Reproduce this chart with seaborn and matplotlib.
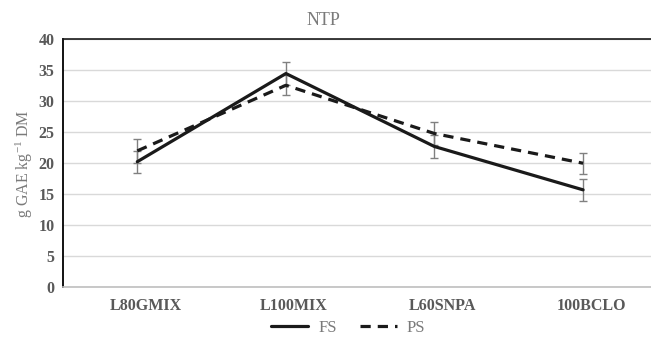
import matplotlib
matplotlib.use("Agg")
import matplotlib.pyplot as plt
import matplotlib.transforms as mtransforms
from matplotlib.lines import Line2D
import numpy as np
import pandas as pd
import seaborn as sns

# Data: total phenolic content (g GAE kg-1 DM) per formulation, FS vs PS
categories = ["L80GMIX", "L100MIX", "L60SNPA", "100BCLO"]
fs_values = [20.25, 34.5, 22.7, 15.7]
fs_errors = [1.75, 1.8, 1.9, 1.8]
ps_values = [22.0, 32.6, 24.8, 20.0]
ps_errors = [1.9, 1.6, 1.9, 1.7]
series_names = ["FS", "PS"]
y_ticks = [0, 5, 10, 15, 20, 25, 30, 35, 40]

df = pd.concat([
    pd.DataFrame({"formulation": categories, "value": fs_values,
                  "err": fs_errors, "series": series_names[0]}),
    pd.DataFrame({"formulation": categories, "value": ps_values,
                  "err": ps_errors, "series": series_names[1]}),
], ignore_index=True)
df["pos"] = df["formulation"].map({c: i for i, c in enumerate(categories)})

sns.set_theme(style="white")
plt.rcParams["font.family"] = ["Liberation Serif", "DejaVu Serif"]
plt.rcParams["mathtext.fontset"] = "custom"
plt.rcParams["mathtext.rm"] = "Liberation Serif"
plt.rcParams["mathtext.it"] = "Liberation Serif:italic"

text_grey = "#595959"
light_grey = "#7a7a7a"
dash_pat = (3.2, 2.2)

fig = plt.figure(figsize=(6.51, 3.37), dpi=100)
ax = fig.add_axes([0.0968, 0.1484, 0.9032, 0.7344])

# Error bars first so the lines sit on top
for name in series_names:
    sub = df[df["series"] == name]
    ax.errorbar(sub["pos"], sub["value"], yerr=sub["err"], fmt="none",
                ecolor="#808080", elinewidth=1.0, capsize=3, capthick=1.0,
                zorder=2)

sns.lineplot(data=df, x="pos", y="value", hue="series", style="series",
             palette={"FS": "#1a1a1a", "PS": "#1a1a1a"},
             dashes={"FS": "", "PS": dash_pat},
             linewidth=2.3, sort=False, ax=ax, legend=False, zorder=3)

ax.set_ylim(0, 40)
ax.set_yticks(y_ticks)
ax.set_xlim(-0.5, 3.457)
ax.set_xticks(range(len(categories)))
ax.set_xticklabels(categories)

ax.grid(axis="y", color="#d9d9d9", linewidth=1.0)
ax.grid(axis="x", visible=False)
ax.set_axisbelow(True)

ax.spines["right"].set_visible(False)
ax.spines["left"].set_color("#000000")
ax.spines["left"].set_linewidth(1.3)
ax.spines["top"].set_color("#1a1a1a")
ax.spines["top"].set_linewidth(1.2)
ax.spines["bottom"].set_color("#bfbfbf")
ax.spines["bottom"].set_linewidth(1.2)

ax.tick_params(axis="both", length=0, colors=text_grey, labelsize=11.5)
ax.tick_params(axis="y", pad=6)
ax.tick_params(axis="x", pad=8)
for lbl in ax.get_xticklabels() + ax.get_yticklabels():
    lbl.set_fontweight("bold")
    lbl.set_color(text_grey)

# Category labels sit slightly right of their points
shift = mtransforms.ScaledTranslation(8 / 100, 0, fig.dpi_scale_trans)
for lbl in ax.get_xticklabels():
    lbl.set_transform(lbl.get_transform() + shift)

ax.set_xlabel("")
ax.set_ylabel(r"g GAE kg$^{\mathregular{-1}}$ DM", color=light_grey,
              fontsize=11.5)
ax.yaxis.set_label_coords(-0.047, 0.5)

fig.text(0.497, 0.94, "NTP", ha="center", va="center", color=light_grey,
         fontsize=13)

handles = [
    Line2D([], [], color="#1a1a1a", linewidth=2.3, linestyle="-"),
    Line2D([], [], color="#1a1a1a", linewidth=2.3, linestyle=(0, dash_pat)),
]
fig.legend(handles, series_names, loc="center", ncol=2,
           bbox_to_anchor=(0.535, 0.027), frameon=False,
           fontsize=12, handlelength=2.2, columnspacing=1.4,
           handletextpad=0.6, labelcolor=light_grey)

fig.savefig("out.png", dpi=100)
